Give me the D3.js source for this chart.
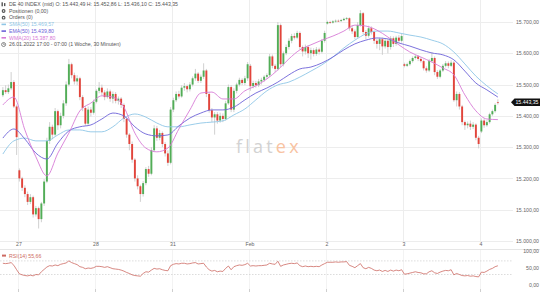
<!DOCTYPE html>
<html>
<head>
<meta charset="utf-8">
<script src="https://cdn.jsdelivr.net/npm/d3@7"></script>
<style>
  body { margin: 0; background: #fff; }
  svg { display: block; font-family: "Liberation Sans", Arial, sans-serif; }
</style>
</head>
<body>
<div id="chart"></div>
<script>

// 30 minute candles, 26.01. 17:00 to 04.02. (one row per trading day)
var opens = [
  15466,15482,15476,15488,15508,15430,
  15226,15200,15170,15150,15125,15140,15085,15105,15070,15120,15190,15320,15365,15340,15415,15370,15400,15440,15500,15565,15530,15510,15520,15460,15425,15375,15420,15410,
  15445,15480,15490,15475,15460,15478,15455,15470,15448,15455,15435,15390,15340,15310,15260,15200,15175,15150,15185,15230,15215,15290,15360,15330,15345,15310,15280,15250,
  15420,15450,15470,15462,15490,15495,15485,15500,15520,15535,15512,15525,15545,15470,15418,15395,15405,15385,15400,15390,15440,15492,15420,15480,15500,15515,15505,15520,
  15560,15495,15505,15498,15510,15515,15525,15530,15590,15560,15550,15690,15565,15600,15620,15640,15655,15650,15665,15620,15606,15620,15600,15610,15598,15612,15605,15640,
  15695,15700,15698,15702,15704,15703,15706,15710,15712,15680,15670,15652,15690,15728,15668,15656,15680,15668,15640,15630,15645,15622,15640,15620,15648,15630,15650,15640,
  15565,15560,15565,15575,15585,15590,15582,15575,15552,15545,15575,15585,15540,15525,15545,15560,15568,15560,15570,15450,15470,15430,15380,15370,15375,15365,15372,15330,
  15350,15385,15370,15380,15405,15415,15443.49
];
var highs = [
  15492,15498,15500,15540,15514,15436,
  15232,15205,15178,15158,15150,15145,15112,15110,15125,15198,15330,15380,15372,15425,15420,15410,15450,15510,15582,15570,15538,15530,15525,15466,15432,15430,15428,15452,
  15485,15508,15500,15482,15488,15484,15478,15476,15462,15460,15440,15396,15345,15318,15265,15210,15180,15192,15236,15240,15300,15370,15368,15355,15350,15316,15290,15428,
  15458,15478,15480,15498,15505,15500,15508,15526,15550,15540,15532,15568,15550,15475,15425,15412,15412,15410,15408,15448,15500,15498,15488,15506,15522,15520,15528,15572,
  15566,15512,15512,15518,15522,15530,15536,15598,15596,15566,15700,15695,15606,15628,15648,15662,15664,15672,15670,15625,15628,15626,15618,15616,15620,15618,15646,15672,
  15704,15704,15706,15708,15708,15710,15714,15716,15715,15690,15676,15700,15738,15732,15674,15688,15686,15672,15646,15650,15650,15648,15646,15655,15654,15656,15658,15662,
  15570,15570,15580,15590,15596,15594,15588,15580,15558,15582,15604,15590,15546,15550,15566,15575,15574,15578,15575,15478,15476,15435,15385,15382,15385,15380,15376,15336,
  15392,15392,15386,15410,15420,15440,15452.86
];
var lows = [
  15460,15470,15470,15482,15425,15275,
  15190,15160,15140,15115,15118,15075,15078,15040,15060,15112,15185,15310,15325,15335,15355,15360,15392,15432,15494,15520,15500,15498,15450,15415,15368,15368,15398,15404,
  15440,15472,15465,15450,15455,15445,15440,15440,15436,15425,15380,15330,15290,15250,15190,15165,15125,15142,15178,15205,15210,15285,15320,15322,15300,15270,15240,15245,
  15412,15444,15455,15458,15480,15475,15478,15494,15512,15505,15505,15518,15460,15410,15380,15340,15375,15378,15380,15385,15435,15412,15412,15472,15494,15498,15498,15512,
  15480,15488,15490,15492,15500,15508,15518,15525,15552,15540,15545,15555,15558,15594,15612,15632,15644,15645,15612,15590,15596,15585,15580,15590,15592,15596,15600,15634,
  15692,15694,15695,15698,15700,15700,15703,15706,15672,15662,15645,15648,15685,15660,15645,15650,15660,15630,15615,15610,15595,15615,15600,15612,15620,15624,15632,15634,
  15555,15556,15560,15570,15580,15575,15570,15545,15538,15540,15570,15530,15518,15520,15540,15555,15552,15556,15445,15430,15420,15370,15355,15360,15355,15358,15322,15296,
  15345,15362,15365,15375,15400,15410,15436.10
];
var closes = [
  15482,15476,15488,15508,15430,15332,
  15200,15170,15150,15125,15140,15085,15105,15070,15120,15190,15320,15365,15340,15415,15370,15400,15440,15500,15565,15530,15510,15520,15460,15425,15375,15420,15410,15445,
  15480,15490,15475,15460,15478,15455,15470,15448,15455,15435,15390,15340,15310,15260,15200,15175,15150,15185,15230,15215,15290,15360,15330,15345,15310,15280,15250,15420,
  15450,15470,15462,15490,15495,15485,15500,15520,15535,15512,15525,15545,15470,15418,15395,15405,15385,15400,15390,15440,15492,15420,15480,15500,15515,15505,15520,15565,
  15495,15505,15498,15510,15515,15525,15530,15590,15560,15550,15690,15565,15600,15620,15640,15655,15650,15665,15620,15606,15620,15600,15610,15598,15612,15605,15640,15665,
  15700,15698,15702,15704,15703,15706,15710,15712,15680,15670,15652,15690,15728,15668,15656,15680,15668,15640,15630,15645,15622,15640,15620,15648,15630,15650,15640,15655,
  15560,15565,15575,15585,15590,15582,15575,15552,15545,15575,15585,15540,15525,15545,15560,15568,15560,15570,15450,15470,15430,15380,15370,15375,15365,15372,15330,15310,
  15385,15370,15380,15405,15415,15435,15443.35
];

// indicators, read every 4th candle
var maEvery = 4;
var smaValues = [
  15278,15320,15329,15320,15320,15339,15355,15355,15349,15349,15365,15393,15406,15396,15377,15365,15365,15371,15377,15380,15384,15403,15422,
  15451,15480,15499,15508,15524,15543,15563,15588,15617,15642,15662,15671,15671,15665,15658,15652,15642,15630,15604,15566,15527,15496,15470
];
var emaValues = [
  15329,15358,15326,15281,15262,15313,15352,15365,15371,15390,15409,15400,15365,15342,15336,15339,15368,15393,15409,15419,15419,15428,15451,
  15473,15489,15508,15531,15550,15556,15569,15588,15611,15630,15642,15649,15646,15633,15623,15611,15601,15595,15579,15543,15505,15483,15460
];
var wmaValues = [
  15435,15460,15355,15269,15208,15281,15345,15416,15441,15464,15460,15428,15345,15297,15285,15297,15358,15419,15473,15476,15454,15454,15480,
  15496,15518,15547,15582,15611,15627,15642,15655,15671,15690,15687,15674,15652,15627,15604,15588,15572,15553,15531,15467,15416,15390,15388
];

// rsi(14), one value per candle
var rsiValues = [
  63,62,63,65,57,44,
  32,29,27,26,28,26,30,29,38,45,52,56,55,58,56,60,62,64,70,65,62,59,53,51,47,49,48,50,
  54,54,53,51,53,50,47,46,45,43,40,36,33,29,27,26,25,33,38,37,43,48,46,47,44,42,41,56,
  60,62,61,63,63,61,62,64,65,61,62,63,52,44,40,42,38,40,39,48,55,44,53,56,58,57,59,63,
  55,56,55,56,56,57,58,63,61,60,69,54,58,60,62,63,62,64,56,53,55,53,54,53,54,53,58,62,
  66,66,66,67,66,67,67,68,57,54,50,56,62,50,47,51,48,43,41,43,39,42,39,43,40,43,41,44,
  31,32,34,36,38,36,35,32,32,38,41,35,33,37,40,42,41,44,29,33,30,27,26,27,25,26,24,23,
  37,36,40,45,48,53,55.66
];

var dayLabels = ['27', '28', '31', 'Feb', '2', '3', '4'];
var dayStarts = [6, 34, 62, 90, 118, 146, 174];
var priceTicks = [15000, 15100, 15200, 15300, 15400, 15500, 15600, 15700];
var rsiTicks = [0, 50, 100];
var rsiLevels = [30, 70];

var headerLines = [
  'DE 40 INDEX (mid)  O: 15.443,49  H: 15.452,86  L: 15.436,10  C: 15.443,35',
  'Positionen (0,00)',
  'Orders (0)',
  'SMA(50)  15.469,57',
  'EMA(50)  15.439,80',
  'WMA(20)  15.387,80',
  '26.01.2022 17:00 - 07:00  (1 Woche, 30 Minuten)'
];

//config options
var width      = 540
  , height     = 292
  , barStep    = 2.75
  , plotLeft   = 1.5
  , plotRight  = 513
  , upColor    = '#52ad57'
  , downColor  = '#e2443b'
  , wickColor  = '#cbcbcb'
  , gridColor  = '#ededed'
  , textColor  = '#666'
  , smaColor   = '#8fc6e6'
  , emaColor   = '#6d62d8'
  , wmaColor   = '#d77ad6'
  , rsiColor   = '#cd6a62'
;

var de = d3.formatLocale({ decimal: ',', thousands: '.', grouping: [3], currency: ['', ''] });
var fmt = de.format(',.2f');

var n = closes.length;

var x = d3.scaleBand()
    .domain(d3.range(n))
    .range([plotLeft, plotLeft + n * barStep])
    .paddingInner(0.3)
    .paddingOuter(0.15);

var gap = (x.step() - x.bandwidth()) / 2;
function cx(i) { return x(i) + x.bandwidth() / 2; }
function dayX(i) { return x(i) - gap; }

var y = d3.scaleLinear().domain([15000, 15700]).range([241, 22]);
var yRsi = d3.scaleLinear().domain([0, 100]).range([284.7, 250.7]);

var svg = d3.select('#chart').append('svg')
    .attr('width', width)
    .attr('height', height);

// grid
var grid = svg.append('g').attr('class', 'grid');

grid.selectAll('line.h')
    .data(priceTicks)
    .enter()
    .append('line')
    .attr('class', 'h')
    .attr('x1', 0).attr('x2', plotRight)
    .attr('y1', function (d) { return Math.round(y(d)) + 0.5; })
    .attr('y2', function (d) { return Math.round(y(d)) + 0.5; })
    .attr('stroke', gridColor);

grid.selectAll('line.v')
    .data(dayStarts)
    .enter()
    .append('line')
    .attr('class', 'v')
    .attr('x1', function (d) { return Math.round(dayX(d)) + 0.5; })
    .attr('x2', function (d) { return Math.round(dayX(d)) + 0.5; })
    .attr('y1', 0).attr('y2', 241)
    .attr('stroke', gridColor);

grid.selectAll('line.vr')
    .data(dayStarts)
    .enter()
    .append('line')
    .attr('class', 'vr')
    .attr('x1', function (d) { return Math.round(dayX(d)) + 0.5; })
    .attr('x2', function (d) { return Math.round(dayX(d)) + 0.5; })
    .attr('y1', 250).attr('y2', 292)
    .attr('stroke', '#f3f3f3');

grid.selectAll('line.tick')
    .data(dayStarts)
    .enter()
    .append('line')
    .attr('class', 'tick')
    .attr('x1', function (d) { return Math.round(dayX(d)) + 0.5; })
    .attr('x2', function (d) { return Math.round(dayX(d)) + 0.5; })
    .attr('y1', 289).attr('y2', 292)
    .attr('stroke', '#cfcfcf');

// pane separator
svg.append('line')
    .attr('x1', 0).attr('x2', width)
    .attr('y1', 249.5).attr('y2', 249.5)
    .attr('stroke', '#e6e6e6');

// watermark
var mark = svg.append('text')
    .attr('x', 236)
    .attr('y', 153)
    .attr('font-family', '"Open Sans", sans-serif')
    .attr('font-size', 18)
    .attr('letter-spacing', 3.2);
mark.append('tspan').attr('fill', '#d2d2d2').text('flat');
mark.append('tspan').attr('fill', '#f8c3a2').text('ex');

// candles
var candles = svg.append('g').attr('class', 'candles');

candles.selectAll('line.wick')
    .data(closes)
    .enter()
    .append('line')
    .attr('class', 'wick')
    .attr('x1', function (d, i) { return cx(i); })
    .attr('x2', function (d, i) { return cx(i); })
    .attr('y1', function (d, i) { return y(highs[i]); })
    .attr('y2', function (d, i) { return y(lows[i]); })
    .attr('stroke', wickColor)
    .attr('stroke-width', 0.9);

candles.selectAll('rect.body')
    .data(closes)
    .enter()
    .append('rect')
    .attr('class', 'body')
    .attr('x', function (d, i) { return x(i); })
    .attr('width', x.bandwidth())
    .attr('y', function (d, i) { return y(Math.max(opens[i], d)); })
    .attr('height', function (d, i) { return Math.max(0.8, Math.abs(y(opens[i]) - y(d))); })
    .attr('fill', function (d, i) { return d >= opens[i] ? upColor : downColor; });

// moving averages
var maLine = d3.line()
    .x(function (d, k) { return cx(k * maEvery); })
    .y(function (d) { return y(d); })
    .curve(d3.curveMonotoneX);

[[smaValues, smaColor], [emaValues, emaColor], [wmaValues, wmaColor]].forEach(function (s) {
  svg.append('path')
      .datum(s[0])
      .attr('d', maLine)
      .attr('fill', 'none')
      .attr('stroke', s[1])
      .attr('stroke-width', 0.9);
});

// price axis
var axisMain = svg.append('g')
    .attr('transform', 'translate(539,0)')
    .call(d3.axisLeft(y).tickValues(priceTicks).tickFormat(fmt).tickSize(0).tickPadding(0));
axisMain.select('.domain').remove();
axisMain.selectAll('text').attr('fill', textColor).attr('font-size', 5.2);

// day axis
var axisDays = svg.append('g')
    .attr('transform', 'translate(0,241)')
    .call(d3.axisBottom(d3.scaleIdentity())
      .tickValues(dayStarts.map(function (d) { return Math.round(dayX(d)) + 0.5; }))
      .tickFormat(function (d, i) { return dayLabels[i]; })
      .tickSize(0)
      .tickPadding(1.5));
axisDays.select('.domain').remove();
axisDays.selectAll('text').attr('fill', textColor).attr('font-size', 5.2);

// last price marker
var lastY = y(closes[n - 1]);
svg.append('path')
    .attr('d', 'M511,' + lastY + 'L514.5,' + (lastY - 3.8) + 'H540V' + (lastY + 3.8) + 'H514.5Z')
    .attr('fill', '#111');
svg.append('text')
    .attr('x', 538.5)
    .attr('y', lastY)
    .attr('dy', '0.34em')
    .attr('text-anchor', 'end')
    .attr('font-size', 5.2)
    .attr('fill', '#fff')
    .text(fmt(closes[n - 1]));

// rsi pane
svg.selectAll('line.level')
    .data(rsiLevels)
    .enter()
    .append('line')
    .attr('class', 'level')
    .attr('x1', 0).attr('x2', plotRight)
    .attr('y1', function (d) { return yRsi(d); })
    .attr('y2', function (d) { return yRsi(d); })
    .attr('stroke', '#c4c4c4')
    .attr('stroke-width', 0.6)
    .attr('stroke-dasharray', '1.5,1.5');

svg.append('path')
    .datum(rsiValues)
    .attr('d', d3.line()
      .x(function (d, i) { return cx(i); })
      .y(function (d) { return yRsi(d); }))
    .attr('fill', 'none')
    .attr('stroke', rsiColor)
    .attr('stroke-width', 0.8);

var axisRsi = svg.append('g')
    .attr('transform', 'translate(539,0)')
    .call(d3.axisLeft(yRsi).tickValues(rsiTicks).tickFormat(fmt).tickSize(0).tickPadding(0));
axisRsi.select('.domain').remove();
axisRsi.selectAll('text').attr('fill', textColor).attr('font-size', 5.2);

svg.append('rect')
    .attr('x', 2).attr('y', 254.6)
    .attr('width', 4).attr('height', 2)
    .attr('fill', rsiColor);
svg.append('text')
    .attr('x', 9).attr('y', 257.5)
    .attr('font-size', 5.2)
    .attr('fill', rsiColor)
    .text('RSI(14)  ' + fmt(rsiValues[n - 1]));

// header legend
var lineColors = ['#555', '#555', '#555', smaColor, emaColor, wmaColor, '#555'];
var header = svg.append('g').attr('class', 'legend');

header.selectAll('text')
    .data(headerLines)
    .enter()
    .append('text')
    .attr('x', 9)
    .attr('y', function (d, i) { return 6 + i * 6.7; })
    .attr('font-size', 5.2)
    .attr('fill', function (d, i) { return lineColors[i]; })
    .text(function (d) { return d; });

// legend icons
var iconY = function (i) { return 4.3 + i * 6.7; };
header.append('rect').attr('x', 1.5).attr('y', iconY(0) - 2).attr('width', 1.4).attr('height', 4).attr('fill', '#555');
header.append('rect').attr('x', 4).attr('y', iconY(0) - 1.2).attr('width', 1.4).attr('height', 3).attr('fill', '#555');
[1, 2].forEach(function (i) {
  header.append('circle').attr('cx', 3.6).attr('cy', iconY(i)).attr('r', 1.9).attr('fill', '#555');
  header.append('circle').attr('cx', 3.6).attr('cy', iconY(i)).attr('r', 0.8).attr('fill', '#fff');
});
[3, 4, 5].forEach(function (i) {
  header.append('rect').attr('x', 1.5).attr('y', iconY(i) - 0.8).attr('width', 4.5).attr('height', 1.6).attr('fill', lineColors[i]);
});
header.append('circle').attr('cx', 3.6).attr('cy', iconY(6)).attr('r', 2).attr('fill', 'none').attr('stroke', '#555').attr('stroke-width', 0.7);
header.append('path').attr('d', 'M3.6,' + (iconY(6) - 1.2) + 'V' + iconY(6) + 'H4.7').attr('fill', 'none').attr('stroke', '#555').attr('stroke-width', 0.6);

</script>
</body>
</html>
